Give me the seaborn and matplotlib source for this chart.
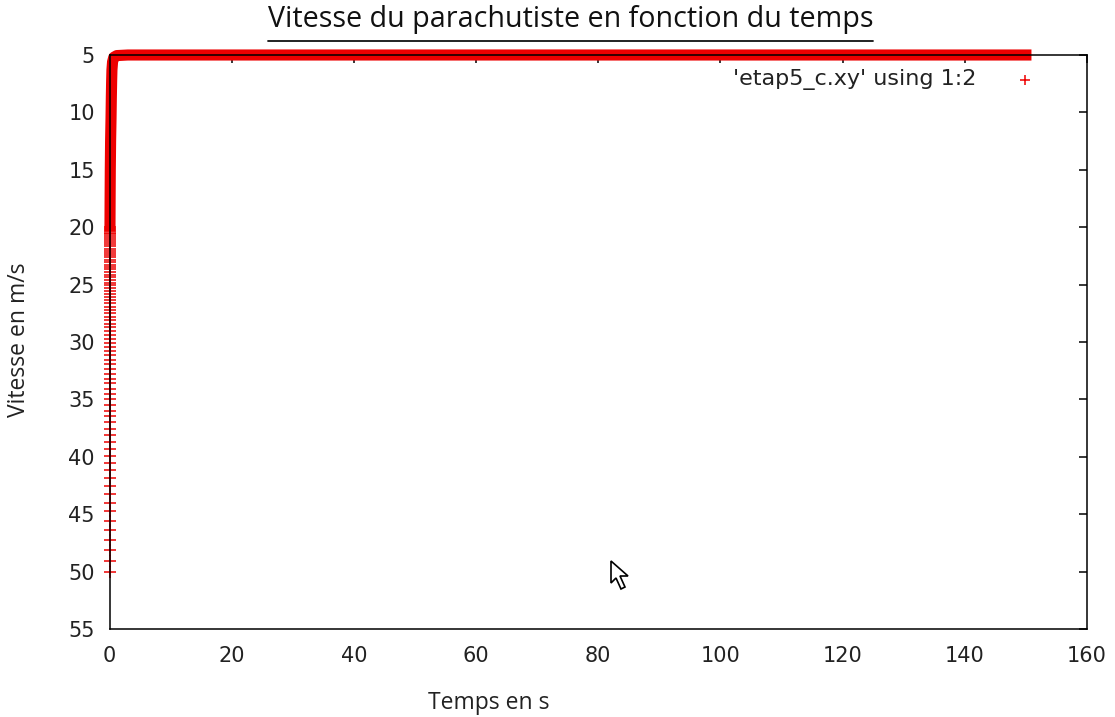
import matplotlib
matplotlib.use("Agg")
import matplotlib.pyplot as plt
from matplotlib.lines import Line2D
from matplotlib.patches import Polygon
import pandas as pd
import seaborn as sns

# First integration steps (dt = 1 ms): points still distinct on the picture
descent_t = [
    0.000, 0.001, 0.002, 0.003, 0.004, 0.005, 0.006, 0.007, 0.008, 0.009,
    0.010, 0.011, 0.012, 0.013, 0.014, 0.015, 0.016, 0.017, 0.018, 0.019,
    0.020, 0.021, 0.022, 0.023, 0.024, 0.025, 0.026, 0.027, 0.028, 0.029,
    0.030, 0.031, 0.032, 0.033, 0.034, 0.035, 0.036, 0.037, 0.038, 0.039,
    0.040, 0.041, 0.042, 0.043, 0.044, 0.045, 0.046, 0.047, 0.048, 0.049,
    0.050, 0.051, 0.052, 0.053, 0.054, 0.055, 0.056, 0.057, 0.058, 0.059,
    0.060, 0.061, 0.062, 0.063, 0.064, 0.065, 0.066, 0.067, 0.068, 0.069,
    0.070, 0.071, 0.072, 0.073, 0.074, 0.075, 0.076, 0.077,
]
descent_v = [
    50.00, 49.04, 48.12, 47.24, 46.38, 45.56, 44.76, 43.99, 43.25, 42.54,
    41.84, 41.17, 40.52, 39.89, 39.28, 38.68, 38.11, 37.55, 37.01, 36.48,
    35.97, 35.47, 34.99, 34.52, 34.06, 33.61, 33.18, 32.75, 32.34, 31.94,
    31.55, 31.16, 30.79, 30.42, 30.07, 29.72, 29.38, 29.04, 28.72, 28.40,
    28.09, 27.79, 27.49, 27.20, 26.91, 26.63, 26.36, 26.09, 25.83, 25.57,
    25.32, 25.07, 24.83, 24.59, 24.35, 24.13, 23.90, 23.68, 23.46, 23.25,
    23.04, 22.84, 22.63, 22.44, 22.24, 22.05, 21.86, 21.68, 21.50, 21.32,
    21.14, 20.97, 20.80, 20.63, 20.47, 20.30, 20.15, 19.99,
]

# Below ~20 m/s the points pile up into a solid band, then the 5 m/s plateau
band_t = [0.078, 0.10, 0.13, 0.18, 0.25, 0.30, 0.35, 0.40, 0.50, 0.70, 1.2, 3.0, 150.0]
band_v = [19.9, 17.5, 15.0, 12.5, 10.5, 8.7, 7.3, 6.3, 5.6, 5.2, 5.05, 5.0, 5.0]

x_ticks = [0, 20, 40, 60, 80, 100, 120, 140, 160]
y_ticks = [5, 10, 15, 20, 25, 30, 35, 40, 45, 50, 55]

title = "Vitesse du parachutiste en fonction du temps"
x_label = "Temps en s"
y_label = "Vitesse en m/s"
series_label = "'etap5_c.xy' using 1:2"

RED = "#ee0000"
INK = "#222222"

descent_df = pd.DataFrame({"t": descent_t, "v": descent_v})
band_df = pd.DataFrame({"t": band_t, "v": band_v})

sns.set_theme(style="white")
plt.rcParams["font.family"] = ["DejaVu Sans"]

W, H = 1115, 717
fig = plt.figure(figsize=(W / 100, H / 100), dpi=100)
ax = fig.add_axes([109.5 / W, 1 - 629 / H, (1087 - 109.5) / W, (629 - 55) / H])

sns.lineplot(
    data=band_df, x="t", y="v", ax=ax, sort=False, estimator=None,
    color=RED, linewidth=8, legend=False, zorder=1,
)
for ln in ax.lines:
    ln.set_solid_capstyle("projecting")
    ln.set_solid_joinstyle("round")
    ln.set_clip_on(False)

sns.scatterplot(
    data=descent_df, x="t", y="v", ax=ax, marker="+", s=75,
    color=RED, linewidth=1.1, label=series_label, zorder=1, clip_on=False,
)

ax.set_xlim(0, 160)
ax.set_ylim(55, 5)
ax.set_xticks(x_ticks)
ax.set_yticks(y_ticks)
ax.tick_params(direction="in", top=True, right=True, length=6, width=1.1,
               labelsize=15, labelcolor=INK, color="black")
ax.tick_params(axis="x", pad=12.5)
ax.tick_params(axis="y", pad=10.5)
for sp in ax.spines.values():
    sp.set_color("black")
    sp.set_linewidth(1.1)
    sp.set_zorder(3)

ax.set_xlabel(x_label, family="Open Sans", fontsize=16.5, color=INK)
ax.set_ylabel(y_label, family="Open Sans", fontsize=16.5, color=INK)
ax.xaxis.set_label_coords(489 / W, 1 - 691 / H, transform=fig.transFigure)
ax.yaxis.set_label_coords(31 / W, 1 - 340 / H, transform=fig.transFigure)

leg = ax.legend(
    loc="center right", bbox_to_anchor=(1036 / W, 1 - 80 / H),
    bbox_transform=fig.transFigure, frameon=False, markerfirst=False,
    handlelength=1.0, handletextpad=1.7, borderpad=0, borderaxespad=0,
    fontsize=16, markerscale=0.75,
)
for txt in leg.get_texts():
    txt.set_color(INK)

# underlined title, like the original word-processor capture
ttl = fig.text(570.5 / W, 1 - 20 / H, title, family="Open Sans", fontsize=20.6,
               ha="center", va="center", color="#111111")
fig.canvas.draw()
bb = ttl.get_window_extent(fig.canvas.get_renderer())
fig.add_artist(Line2D([bb.x0, bb.x1], [H - 40.5, H - 40.5], transform=None,
                      color="#111111", linewidth=1.3))

# mouse pointer left in the screenshot
cursor = [(611, 561), (611, 583), (616, 578), (621, 589), (625, 587),
          (620, 576), (628, 576)]
fig.add_artist(Polygon([(x, H - y) for x, y in cursor], closed=True,
                       transform=None, facecolor="white", edgecolor="black",
                       linewidth=1.2))

fig.savefig("out.png", dpi=100)
